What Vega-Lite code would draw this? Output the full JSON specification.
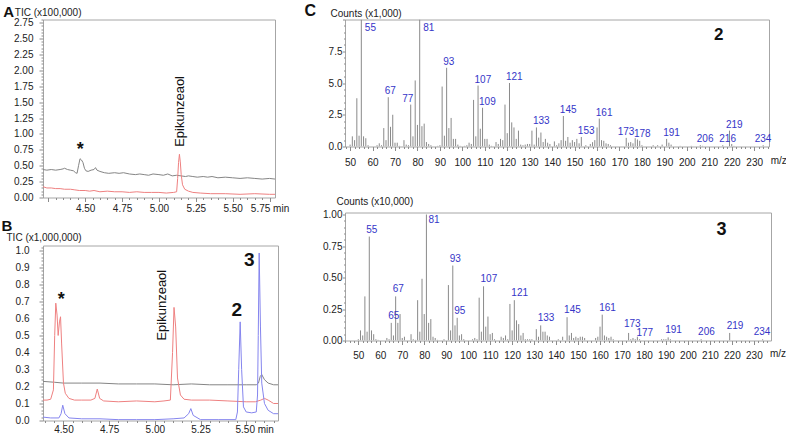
{
"$schema":"https://vega.github.io/schema/vega-lite/v6.json",
"background":"white",
"padding":{"left":0,"top":1.5,"right":0,"bottom":0},
"config":{
 "font":"Liberation Sans",
 "view":{"stroke":"#a6a6a6","strokeWidth":1},
 "axis":{"domain":false,"grid":false,"tickColor":"#8c8c8c","tickWidth":1,"labelColor":"#222","labelFontSize":10,"labelFont":"Liberation Sans","titleFont":"Liberation Sans","titleFontSize":10,"titleFontWeight":"normal","titleColor":"#222","labelFlush":false,"labelOverlap":false,"labelBound":false}
},
"datasets":{
 "aGray":[{"t":4.214,"v":0.44},{"t":4.24,"v":0.43},{"t":4.27,"v":0.44},{"t":4.3,"v":0.43},{"t":4.33,"v":0.44},{"t":4.35,"v":0.45},{"t":4.36,"v":0.46},{"t":4.38,"v":0.44},{"t":4.4,"v":0.43},{"t":4.42,"v":0.42},{"t":4.435,"v":0.39},{"t":4.445,"v":0.38},{"t":4.455,"v":0.5},{"t":4.465,"v":0.61},{"t":4.475,"v":0.59},{"t":4.485,"v":0.55},{"t":4.495,"v":0.46},{"t":4.505,"v":0.42},{"t":4.52,"v":0.41},{"t":4.54,"v":0.43},{"t":4.56,"v":0.44},{"t":4.57,"v":0.47},{"t":4.58,"v":0.43},{"t":4.6,"v":0.41},{"t":4.63,"v":0.39},{"t":4.66,"v":0.38},{"t":4.7,"v":0.39},{"t":4.73,"v":0.38},{"t":4.76,"v":0.39},{"t":4.8,"v":0.37},{"t":4.84,"v":0.36},{"t":4.87,"v":0.37},{"t":4.9,"v":0.36},{"t":4.93,"v":0.35},{"t":4.96,"v":0.37},{"t":5.0,"v":0.36},{"t":5.03,"v":0.35},{"t":5.06,"v":0.37},{"t":5.09,"v":0.34},{"t":5.12,"v":0.35},{"t":5.15,"v":0.34},{"t":5.18,"v":0.33},{"t":5.2,"v":0.34},{"t":5.23,"v":0.33},{"t":5.26,"v":0.32},{"t":5.3,"v":0.33},{"t":5.33,"v":0.32},{"t":5.36,"v":0.33},{"t":5.4,"v":0.31},{"t":5.45,"v":0.32},{"t":5.5,"v":0.31},{"t":5.55,"v":0.3},{"t":5.6,"v":0.31},{"t":5.65,"v":0.3},{"t":5.7,"v":0.29},{"t":5.75,"v":0.3},{"t":5.787,"v":0.29}],
 "aRed":[{"t":4.214,"v":0.17},{"t":4.24,"v":0.15},{"t":4.27,"v":0.15},{"t":4.3,"v":0.14},{"t":4.33,"v":0.14},{"t":4.36,"v":0.13},{"t":4.4,"v":0.13},{"t":4.43,"v":0.12},{"t":4.46,"v":0.11},{"t":4.5,"v":0.11},{"t":4.53,"v":0.1},{"t":4.56,"v":0.11},{"t":4.6,"v":0.09},{"t":4.65,"v":0.1},{"t":4.7,"v":0.09},{"t":4.75,"v":0.09},{"t":4.8,"v":0.08},{"t":4.85,"v":0.09},{"t":4.9,"v":0.08},{"t":4.95,"v":0.08},{"t":5.0,"v":0.08},{"t":5.05,"v":0.07},{"t":5.1,"v":0.08},{"t":5.12,"v":0.09},{"t":5.127,"v":0.3},{"t":5.133,"v":0.55},{"t":5.139,"v":0.68},{"t":5.145,"v":0.56},{"t":5.151,"v":0.36},{"t":5.16,"v":0.2},{"t":5.175,"v":0.13},{"t":5.2,"v":0.1},{"t":5.23,"v":0.08},{"t":5.28,"v":0.07},{"t":5.35,"v":0.06},{"t":5.45,"v":0.06},{"t":5.55,"v":0.05},{"t":5.65,"v":0.06},{"t":5.75,"v":0.05},{"t":5.787,"v":0.05}],
 "aAnn":[{"t":4.467,"v":0.79,"txt":"*","k":"star"},{"t":5.141,"v":1.354,"txt":"Epikunzeaol","k":"name"}],
 "bGray":[{"t":4.388,"v":0.23},{"t":4.45,"v":0.225},{"t":4.5,"v":0.22},{"t":4.6,"v":0.22},{"t":4.7,"v":0.22},{"t":4.8,"v":0.215},{"t":4.9,"v":0.215},{"t":5.0,"v":0.215},{"t":5.1,"v":0.21},{"t":5.2,"v":0.215},{"t":5.3,"v":0.21},{"t":5.4,"v":0.21},{"t":5.5,"v":0.21},{"t":5.555,"v":0.21},{"t":5.567,"v":0.22},{"t":5.577,"v":0.26},{"t":5.585,"v":0.27},{"t":5.6,"v":0.24},{"t":5.62,"v":0.22},{"t":5.65,"v":0.21},{"t":5.674,"v":0.21}],
 "bRed":[{"t":4.388,"v":0.12},{"t":4.41,"v":0.12},{"t":4.43,"v":0.125},{"t":4.445,"v":0.18},{"t":4.452,"v":0.5},{"t":4.458,"v":0.69},{"t":4.465,"v":0.62},{"t":4.471,"v":0.5},{"t":4.478,"v":0.58},{"t":4.484,"v":0.61},{"t":4.49,"v":0.45},{"t":4.5,"v":0.22},{"t":4.51,"v":0.16},{"t":4.53,"v":0.13},{"t":4.56,"v":0.12},{"t":4.6,"v":0.12},{"t":4.65,"v":0.12},{"t":4.672,"v":0.13},{"t":4.685,"v":0.185},{"t":4.698,"v":0.13},{"t":4.72,"v":0.115},{"t":4.8,"v":0.11},{"t":4.9,"v":0.115},{"t":5.0,"v":0.11},{"t":5.05,"v":0.115},{"t":5.085,"v":0.12},{"t":5.097,"v":0.4},{"t":5.105,"v":0.665},{"t":5.114,"v":0.55},{"t":5.124,"v":0.25},{"t":5.14,"v":0.15},{"t":5.16,"v":0.125},{"t":5.2,"v":0.12},{"t":5.3,"v":0.12},{"t":5.4,"v":0.115},{"t":5.5,"v":0.11},{"t":5.55,"v":0.11},{"t":5.58,"v":0.12},{"t":5.6,"v":0.13},{"t":5.62,"v":0.12},{"t":5.65,"v":0.1},{"t":5.674,"v":0.1}],
 "bBlue":[{"t":4.388,"v":0.02},{"t":4.43,"v":0.015},{"t":4.475,"v":0.015},{"t":4.487,"v":0.04},{"t":4.496,"v":0.09},{"t":4.508,"v":0.04},{"t":4.53,"v":0.015},{"t":4.6,"v":0.01},{"t":4.7,"v":0.01},{"t":4.8,"v":0.005},{"t":4.9,"v":0.005},{"t":5.0,"v":0.005},{"t":5.1,"v":0.01},{"t":5.16,"v":0.015},{"t":5.185,"v":0.04},{"t":5.197,"v":0.07},{"t":5.21,"v":0.03},{"t":5.25,"v":0.005},{"t":5.35,"v":0.005},{"t":5.443,"v":0.005},{"t":5.452,"v":0.05},{"t":5.459,"v":0.3},{"t":5.467,"v":0.58},{"t":5.475,"v":0.3},{"t":5.485,"v":0.08},{"t":5.5,"v":0.05},{"t":5.53,"v":0.045},{"t":5.555,"v":0.05},{"t":5.562,"v":0.15},{"t":5.566,"v":0.5},{"t":5.571,"v":0.985},{"t":5.578,"v":0.55},{"t":5.585,"v":0.22},{"t":5.6,"v":0.1},{"t":5.62,"v":0.06},{"t":5.65,"v":0.04},{"t":5.674,"v":0.04}],
 "bAnn":[{"t":4.488,"v":0.725,"txt":"*","k":"star"},{"t":5.038,"v":0.678,"txt":"Epikunzeaol","k":"name"},{"t":5.448,"v":0.657,"txt":"2","k":"num"},{"t":5.517,"v":0.951,"txt":"3","k":"num"}],
 "c2":[{"mz":50,"v":0.15},{"mz":51,"v":0.8},{"mz":52,"v":0.5},{"mz":53,"v":3.8},{"mz":54,"v":0.85},{"mz":55,"v":10,"lab":"55"},{"mz":56,"v":0.8},{"mz":57,"v":0.65},{"mz":58,"v":0.1},{"mz":62,"v":0.1},{"mz":63,"v":0.25},{"mz":64,"v":0.1},{"mz":65,"v":1.45},{"mz":66,"v":0.5},{"mz":67,"v":3.88,"lab":"67"},{"mz":68,"v":1.55},{"mz":69,"v":2.5},{"mz":70,"v":0.3},{"mz":71,"v":0.3},{"mz":72,"v":0.05},{"mz":74,"v":0.5},{"mz":75,"v":0.15},{"mz":76,"v":0.1},{"mz":77,"v":3.3,"lab":"77"},{"mz":78,"v":0.8},{"mz":79,"v":5.2},{"mz":80,"v":1.7},{"mz":81,"v":10,"lab":"81"},{"mz":82,"v":1.6},{"mz":83,"v":1.8},{"mz":84,"v":0.35},{"mz":85,"v":0.2},{"mz":86,"v":0.1},{"mz":89,"v":0.05},{"mz":90,"v":0.1},{"mz":91,"v":4.72},{"mz":92,"v":0.85},{"mz":93,"v":6.2,"lab":"93"},{"mz":94,"v":1.45},{"mz":95,"v":2.25},{"mz":96,"v":0.6},{"mz":97,"v":0.6},{"mz":98,"v":0.15},{"mz":99,"v":0.05},{"mz":101,"v":0.05},{"mz":102,"v":0.1},{"mz":103,"v":0.3},{"mz":104,"v":0.2},{"mz":105,"v":3.67},{"mz":106,"v":0.8},{"mz":107,"v":4.8,"lab":"107"},{"mz":108,"v":1.4},{"mz":109,"v":3.05,"lab":"109"},{"mz":110,"v":0.6},{"mz":111,"v":0.6},{"mz":112,"v":0.15},{"mz":113,"v":0.05},{"mz":115,"v":0.35},{"mz":116,"v":0.2},{"mz":117,"v":0.6},{"mz":118,"v":0.5},{"mz":119,"v":3.3},{"mz":120,"v":1.05},{"mz":121,"v":5.0,"lab":"121"},{"mz":122,"v":1.9},{"mz":123,"v":1.5},{"mz":124,"v":0.6},{"mz":125,"v":1.25},{"mz":126,"v":0.15},{"mz":127,"v":0.1},{"mz":128,"v":0.15},{"mz":129,"v":0.2},{"mz":130,"v":0.2},{"mz":131,"v":1.25},{"mz":132,"v":0.15},{"mz":133,"v":1.5,"lab":"133"},{"mz":134,"v":0.7},{"mz":135,"v":1.1},{"mz":136,"v":0.35},{"mz":137,"v":0.6},{"mz":138,"v":0.3},{"mz":139,"v":0.2},{"mz":141,"v":0.4},{"mz":142,"v":0.1},{"mz":143,"v":0.25},{"mz":144,"v":0.5},{"mz":145,"v":2.4,"lab":"145"},{"mz":146,"v":0.45},{"mz":147,"v":0.75},{"mz":148,"v":0.3},{"mz":149,"v":0.5},{"mz":150,"v":0.35},{"mz":151,"v":0.6},{"mz":152,"v":0.25},{"mz":153,"v":0.75,"lab":"153"},{"mz":155,"v":0.1},{"mz":157,"v":0.2},{"mz":158,"v":0.34},{"mz":159,"v":0.5},{"mz":160,"v":1.5},{"mz":161,"v":2.2,"lab":"161"},{"mz":162,"v":0.5},{"mz":163,"v":0.45},{"mz":164,"v":0.25},{"mz":165,"v":0.2},{"mz":166,"v":0.1},{"mz":173,"v":0.68,"lab":"173"},{"mz":174,"v":0.3},{"mz":175,"v":0.35},{"mz":176,"v":0.25},{"mz":177,"v":0.65},{"mz":178,"v":0.55,"lab":"178"},{"mz":179,"v":0.45},{"mz":180,"v":0.1},{"mz":185,"v":0.1},{"mz":187,"v":0.1},{"mz":189,"v":0.15},{"mz":191,"v":0.6,"lab":"191"},{"mz":192,"v":0.3},{"mz":193,"v":0.15},{"mz":197,"v":0.05},{"mz":202,"v":0.05},{"mz":206,"v":0.1,"lab":"206"},{"mz":207,"v":0.05},{"mz":216,"v":0.1,"lab":"216"},{"mz":219,"v":1.25,"lab":"219"},{"mz":220,"v":0.2},{"mz":221,"v":0.05},{"mz":234,"v":0.1,"lab":"234"}],
 "c3":[{"mz":50,"v":0.01},{"mz":51,"v":0.08},{"mz":52,"v":0.04},{"mz":53,"v":0.35},{"mz":54,"v":0.07},{"mz":55,"v":0.825,"lab":"55"},{"mz":56,"v":0.08},{"mz":57,"v":0.05},{"mz":58,"v":0.01},{"mz":59,"v":0.005},{"mz":63,"v":0.02},{"mz":64,"v":0.01},{"mz":65,"v":0.14,"lab":"65"},{"mz":66,"v":0.04},{"mz":67,"v":0.35,"lab":"67"},{"mz":68,"v":0.14},{"mz":69,"v":0.21},{"mz":70,"v":0.02},{"mz":71,"v":0.03},{"mz":74,"v":0.05},{"mz":75,"v":0.01},{"mz":76,"v":0.005},{"mz":77,"v":0.32},{"mz":78,"v":0.07},{"mz":79,"v":0.49},{"mz":80,"v":0.21},{"mz":81,"v":1.0,"lab":"81"},{"mz":82,"v":0.14},{"mz":83,"v":0.17},{"mz":84,"v":0.03},{"mz":85,"v":0.02},{"mz":86,"v":0.005},{"mz":89,"v":0.01},{"mz":91,"v":0.44},{"mz":92,"v":0.08},{"mz":93,"v":0.595,"lab":"93"},{"mz":94,"v":0.12},{"mz":95,"v":0.18,"lab":"95"},{"mz":96,"v":0.04},{"mz":97,"v":0.05},{"mz":98,"v":0.01},{"mz":102,"v":0.01},{"mz":103,"v":0.02},{"mz":104,"v":0.01},{"mz":105,"v":0.34},{"mz":106,"v":0.07},{"mz":107,"v":0.43,"lab":"107"},{"mz":108,"v":0.11},{"mz":109,"v":0.19},{"mz":110,"v":0.05},{"mz":111,"v":0.06},{"mz":112,"v":0.01},{"mz":115,"v":0.03},{"mz":116,"v":0.02},{"mz":117,"v":0.04},{"mz":118,"v":0.01},{"mz":119,"v":0.29},{"mz":120,"v":0.08},{"mz":121,"v":0.32,"lab":"121"},{"mz":122,"v":0.16},{"mz":123,"v":0.13},{"mz":124,"v":0.04},{"mz":125,"v":0.06},{"mz":126,"v":0.01},{"mz":127,"v":0.01},{"mz":128,"v":0.01},{"mz":129,"v":0.01},{"mz":131,"v":0.09},{"mz":132,"v":0.03},{"mz":133,"v":0.12,"lab":"133"},{"mz":134,"v":0.07},{"mz":135,"v":0.07},{"mz":136,"v":0.04},{"mz":137,"v":0.03},{"mz":141,"v":0.01},{"mz":143,"v":0.03},{"mz":145,"v":0.185,"lab":"145"},{"mz":146,"v":0.04},{"mz":147,"v":0.06},{"mz":148,"v":0.02},{"mz":149,"v":0.03},{"mz":150,"v":0.02},{"mz":151,"v":0.03},{"mz":152,"v":0.03},{"mz":153,"v":0.02},{"mz":158,"v":0.02},{"mz":159,"v":0.03},{"mz":160,"v":0.11},{"mz":161,"v":0.205,"lab":"161"},{"mz":162,"v":0.04},{"mz":163,"v":0.03},{"mz":164,"v":0.02},{"mz":165,"v":0.03},{"mz":166,"v":0.01},{"mz":173,"v":0.06,"lab":"173"},{"mz":174,"v":0.01},{"mz":175,"v":0.02},{"mz":176,"v":0.01},{"mz":177,"v":0.03,"lab":"177"},{"mz":178,"v":0.01},{"mz":188,"v":0.01},{"mz":189,"v":0.01},{"mz":190,"v":0.01},{"mz":191,"v":0.025,"lab":"191"},{"mz":192,"v":0.01},{"mz":206,"v":0.01,"lab":"206"},{"mz":219,"v":0.06,"lab":"219"},{"mz":234,"v":0.01,"lab":"234"}],
 "c2Ann":[{"mz":214.2,"v":8.9,"txt":"2"}],
 "c3Ann":[{"mz":215.3,"v":0.887,"txt":"3"}]
},
"spacing":302,
"bounds":"flush",
"hconcat":[
 {"vconcat":[
  {"width":232,"height":178,
   "layer":[
    {"data":{"name":"aGray"},"mark":{"type":"line","color":"#858585","strokeWidth":1,"clip":true},
     "encoding":{
      "x":{"field":"t","type":"quantitative","scale":{"domain":[4.214,5.787],"nice":false,"zero":false},
        "axis":{"title":"A","titleFontSize":15,"titleFontWeight":"bold","titleColor":"#111","titleAngle":0,"titleAlign":"left","titleBaseline":"middle","titleX":-40.3,"titleY":-185.8,
          "tickCount":31,"labelPadding":2,
          "labelExpr":"abs(datum.value-5.75)<0.001 ? '5.75 min' : (abs(datum.value*4-round(datum.value*4))<0.001 && datum.value>4.4 ? format(datum.value,'.2f') : '')",
          "tickSize":{"condition":{"test":"abs(datum.value*4-round(datum.value*4))<0.001","value":4},"value":2}}},
      "y":{"field":"v","type":"quantitative","scale":{"domain":[0,2.8],"nice":false},
        "axis":{"title":"TIC (x100,000)","titleAngle":0,"titleAlign":"left","titleBaseline":"middle","titleX":-28.7,"titleY":-7,"tickCount":56,"labelPadding":6,
          "labelExpr":"abs(datum.value*4-round(datum.value*4))<0.001 ? format(datum.value,'.2f') : ''",
          "tickSize":{"condition":{"test":"abs(datum.value*4-round(datum.value*4))<0.001","value":4},"value":2}}}}},
    {"data":{"name":"aRed"},"mark":{"type":"line","color":"#ee8080","strokeWidth":1,"clip":true},
     "encoding":{"x":{"field":"t","type":"quantitative"},"y":{"field":"v","type":"quantitative"}}},
    {"data":{"name":"aAnn"},"transform":[{"filter":"datum.k=='star'"}],"mark":{"type":"text","fontSize":18,"fontWeight":"bold","color":"#111","align":"center","baseline":"alphabetic","dy":8},
     "encoding":{"x":{"field":"t","type":"quantitative"},"y":{"field":"v","type":"quantitative"},"text":{"field":"txt"}}},
    {"data":{"name":"aAnn"},"transform":[{"filter":"datum.k=='name'"}],"mark":{"type":"text","fontSize":13,"angle":270,"color":"#111","align":"center","baseline":"middle"},
     "encoding":{"x":{"field":"t","type":"quantitative"},"y":{"field":"v","type":"quantitative"},"text":{"field":"txt"}}}
   ]},
  {"width":235,"height":175,
   "layer":[
    {"data":{"name":"bGray"},"mark":{"type":"line","color":"#858585","strokeWidth":1,"clip":true},
     "encoding":{
      "x":{"field":"t","type":"quantitative","scale":{"domain":[4.388,5.674],"nice":false,"zero":false},
        "axis":{"title":"B","titleFontSize":15,"titleFontWeight":"bold","titleColor":"#111","titleAngle":0,"titleAlign":"left","titleBaseline":"middle","titleX":-42,"titleY":-194.6,
          "tickCount":26,"labelPadding":0,
          "labelExpr":"abs(datum.value-5.5)<0.001 ? '5.50 min' : (abs(datum.value*4-round(datum.value*4))<0.001 ? format(datum.value,'.2f') : '')",
          "labelOffset":{"condition":{"test":"abs(datum.value-5.5)<0.001","value":8},"value":0},
          "tickSize":{"condition":{"test":"abs(datum.value*4-round(datum.value*4))<0.001","value":4},"value":2}}},
      "y":{"field":"v","type":"quantitative","scale":{"domain":[0,1.029],"nice":false},
        "axis":{"title":"TIC (x1,000,000)","titleAngle":0,"titleAlign":"left","titleBaseline":"middle","titleX":-37,"titleY":-7.7,"tickCount":51,"labelPadding":10,
          "labelExpr":"abs(datum.value*10-round(datum.value*10))<0.001 ? format(datum.value,'.1f') : ''",
          "tickSize":{"condition":{"test":"abs(datum.value*10-round(datum.value*10))<0.001","value":4},"value":2}}}}},
    {"data":{"name":"bRed"},"mark":{"type":"line","color":"#ee8080","strokeWidth":1,"clip":true},
     "encoding":{"x":{"field":"t","type":"quantitative"},"y":{"field":"v","type":"quantitative"}}},
    {"data":{"name":"bBlue"},"mark":{"type":"line","color":"#8585ee","strokeWidth":1,"clip":true},
     "encoding":{"x":{"field":"t","type":"quantitative"},"y":{"field":"v","type":"quantitative"}}},
    {"data":{"name":"bAnn"},"transform":[{"filter":"datum.k=='star'"}],"mark":{"type":"text","fontSize":18,"fontWeight":"bold","color":"#111","align":"center","baseline":"alphabetic","dy":8},
     "encoding":{"x":{"field":"t","type":"quantitative"},"y":{"field":"v","type":"quantitative"},"text":{"field":"txt"}}},
    {"data":{"name":"bAnn"},"transform":[{"filter":"datum.k=='name'"}],"mark":{"type":"text","fontSize":13,"angle":270,"color":"#111","align":"center","baseline":"middle"},
     "encoding":{"x":{"field":"t","type":"quantitative"},"y":{"field":"v","type":"quantitative"},"text":{"field":"txt"}}},
    {"data":{"name":"bAnn"},"transform":[{"filter":"datum.k=='num'"}],"mark":{"type":"text","fontSize":19,"fontWeight":"bold","color":"#111","align":"center","baseline":"alphabetic","dy":6.8},
     "encoding":{"x":{"field":"t","type":"quantitative"},"y":{"field":"v","type":"quantitative"},"text":{"field":"txt"}}}
   ]}
 ],"spacing":48,"bounds":"flush"},
 {"vconcat":[
  {"width":424,"height":127,
   "layer":[
    {"data":{"name":"c2"},"mark":{"type":"rule","color":"#8a8a8a","strokeWidth":1,"clip":true},
     "encoding":{
      "x":{"field":"mz","type":"quantitative","scale":{"domain":[47.73,236.6],"nice":false,"zero":false},
        "axis":{"title":"C","titleFontSize":16,"titleFontWeight":"bold","titleColor":"#111","titleAngle":0,"titleAlign":"left","titleBaseline":"middle","titleX":-41,"titleY":-136.3,
          "tickCount":95,"labelPadding":6.5,
          "labelExpr":"datum.value > 235 ? 'm/z' : (abs(datum.value/10-round(datum.value/10))<0.001 && datum.value>=49 && datum.value<=231 ? format(datum.value,'d') : '')",
          "labelOffset":{"condition":{"test":"datum.value > 235","value":10.6},"value":0},
          "tickSize":{"condition":{"test":"abs(datum.value/10-round(datum.value/10))<0.001","value":4},"value":2}}},
      "y":{"field":"v","type":"quantitative","scale":{"domain":[0,10],"nice":false},
        "axis":{"title":"Counts (x1,000)","titleAngle":0,"titleAlign":"left","titleBaseline":"middle","titleX":-15,"titleY":-5.7,"tickCount":20,"labelPadding":0.5,
          "labelExpr":"abs(datum.value/2.5-round(datum.value/2.5))<0.001 && datum.value<9 ? format(datum.value,'.1f') : ''",
          "tickSize":{"condition":{"test":"abs(datum.value/2.5-round(datum.value/2.5))<0.001","value":2.5},"value":1.5}}},
      "y2":{"datum":0}}},
    {"data":{"name":"c2"},"transform":[{"filter":"datum.lab && datum.v < 9.9 && indexof(['77','173','234'], datum.lab) < 0"}],
     "mark":{"type":"text","align":"left","baseline":"alphabetic","dx":-3.5,"dy":-3,"color":"#3535c8","fontSize":10},
     "encoding":{"x":{"field":"mz","type":"quantitative"},"y":{"field":"v","type":"quantitative"},"text":{"field":"lab"}}},
    {"data":{"name":"c2"},"transform":[{"filter":"datum.lab && indexof(['77','173','234'], datum.lab) >= 0"}],
     "mark":{"type":"text","align":"left","baseline":"alphabetic","dx":-8.5,"dy":-3,"color":"#3535c8","fontSize":10},
     "encoding":{"x":{"field":"mz","type":"quantitative"},"y":{"field":"v","type":"quantitative"},"text":{"field":"lab"}}},
    {"data":{"name":"c2"},"transform":[{"filter":"datum.lab && datum.v >= 9.9"}],
     "mark":{"type":"text","align":"left","baseline":"top","dx":3.5,"dy":3,"color":"#3535c8","fontSize":10},
     "encoding":{"x":{"field":"mz","type":"quantitative"},"y":{"field":"v","type":"quantitative"},"text":{"field":"lab"}}},
    {"data":{"name":"c2Ann"},"mark":{"type":"text","fontSize":17,"fontWeight":"bold","color":"#111","align":"center","baseline":"alphabetic","dy":6.1},
     "encoding":{"x":{"field":"mz","type":"quantitative"},"y":{"field":"v","type":"quantitative"},"text":{"field":"txt"}}}
   ]},
  {"width":426,"height":128,
   "layer":[
    {"data":{"name":"c3"},"mark":{"type":"rule","color":"#8a8a8a","strokeWidth":1,"clip":true},
     "encoding":{
      "x":{"field":"mz","type":"quantitative","scale":{"domain":[43.95,237.8],"nice":false,"zero":false},
        "axis":{"title":null,"tickCount":97,"labelPadding":6,
          "labelExpr":"datum.value > 235 ? 'm/z' : (abs(datum.value/10-round(datum.value/10))<0.001 && datum.value>=49 && datum.value<=231 ? format(datum.value,'d') : '')",
          "labelOffset":{"condition":{"test":"datum.value > 235","value":10.5},"value":0},
          "tickSize":{"condition":{"test":"abs(datum.value/10-round(datum.value/10))<0.001","value":4},"value":2}}},
      "y":{"field":"v","type":"quantitative","scale":{"domain":[0,1.016],"nice":false},
        "axis":{"title":"Counts (x10,000)","titleAngle":0,"titleAlign":"left","titleBaseline":"middle","titleX":-9,"titleY":-11.4,"tickCount":20,"labelPadding":0.5,
          "labelExpr":"abs(datum.value*4-round(datum.value*4))<0.001 ? format(datum.value,'.2f') : ''",
          "tickSize":{"condition":{"test":"abs(datum.value*4-round(datum.value*4))<0.001","value":2.5},"value":1.5}}},
      "y2":{"datum":0}}},
    {"data":{"name":"c3"},"transform":[{"filter":"datum.lab && datum.v < 0.99 && indexof(['173','177','234'], datum.lab) < 0"}],
     "mark":{"type":"text","align":"left","baseline":"alphabetic","dx":-3,"dy":-4,"color":"#3535c8","fontSize":10},
     "encoding":{"x":{"field":"mz","type":"quantitative"},"y":{"field":"v","type":"quantitative"},"text":{"field":"lab"}}},
    {"data":{"name":"c3"},"transform":[{"filter":"datum.lab == '173'"}],
     "mark":{"type":"text","align":"left","baseline":"alphabetic","dx":-4.6,"dy":-5.5,"color":"#3535c8","fontSize":10},
     "encoding":{"x":{"field":"mz","type":"quantitative"},"y":{"field":"v","type":"quantitative"},"text":{"field":"lab"}}},
    {"data":{"name":"c3"},"transform":[{"filter":"datum.lab == '177'"}],
     "mark":{"type":"text","align":"left","baseline":"alphabetic","dx":-1,"dy":-0.5,"color":"#3535c8","fontSize":10},
     "encoding":{"x":{"field":"mz","type":"quantitative"},"y":{"field":"v","type":"quantitative"},"text":{"field":"lab"}}},
    {"data":{"name":"c3"},"transform":[{"filter":"datum.lab == '234'"}],
     "mark":{"type":"text","align":"left","baseline":"alphabetic","dx":-9,"dy":-4,"color":"#3535c8","fontSize":10},
     "encoding":{"x":{"field":"mz","type":"quantitative"},"y":{"field":"v","type":"quantitative"},"text":{"field":"lab"}}},
    {"data":{"name":"c3"},"transform":[{"filter":"datum.lab && datum.v >= 0.99"}],
     "mark":{"type":"text","align":"left","baseline":"top","dx":2,"dy":0,"color":"#3535c8","fontSize":10},
     "encoding":{"x":{"field":"mz","type":"quantitative"},"y":{"field":"v","type":"quantitative"},"text":{"field":"lab"}}},
    {"data":{"name":"c3Ann"},"mark":{"type":"text","fontSize":18,"fontWeight":"bold","color":"#111","align":"center","baseline":"alphabetic","dy":6.4},
     "encoding":{"x":{"field":"mz","type":"quantitative"},"y":{"field":"v","type":"quantitative"},"text":{"field":"txt"}}}
   ]}
 ],"spacing":66,"bounds":"flush"}
]
}
